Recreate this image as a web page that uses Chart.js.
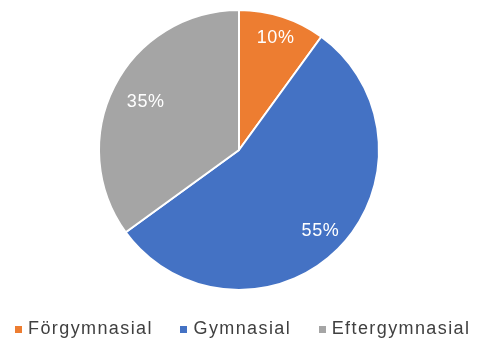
<!DOCTYPE html>
<html>
<head>
<meta charset="utf-8">
<script src="https://cdn.jsdelivr.net/npm/chart.js@4/dist/chart.umd.min.js"></script>
<style>
  html, body { margin: 0; padding: 0; background: #ffffff; }
  #wrap { width: 478px; height: 344px; position: relative; }
</style>
</head>
<body>
<div id="wrap"><canvas id="c" width="478" height="344"></canvas></div>
<script>
// Utbildningsnivå – andel per kategori (procent)
const categories = ['Förgymnasial', 'Gymnasial', 'Eftergymnasial'];
const shares = [10, 55, 35];
const sliceColors = ['#ED7D31', '#4472C4', '#A5A5A5'];

// Radial placement of the percentage labels, as a fraction of the radius
const labelRadius = [0.84, 0.82, 0.75];

const FONT = '"Liberation Sans", Arial, sans-serif';

// White percentage labels inside each slice
const sliceLabels = {
  id: 'sliceLabels',
  afterDatasetsDraw(chart) {
    const ctx = chart.ctx;
    const meta = chart.getDatasetMeta(0);
    ctx.save();
    ctx.font = '18px ' + FONT;
    ctx.letterSpacing = '0.6px';
    ctx.fillStyle = '#ffffff';
    ctx.textAlign = 'center';
    ctx.textBaseline = 'middle';
    meta.data.forEach((arc, i) => {
      const p = arc.getProps(['x', 'y', 'startAngle', 'endAngle', 'outerRadius'], true);
      const mid = (p.startAngle + p.endAngle) / 2;
      const r = p.outerRadius * labelRadius[i];
      const x = p.x + Math.cos(mid) * r;
      const y = p.y + Math.sin(mid) * r;
      ctx.fillText(shares[i] + '%', x + 0.3, y);
    });
    ctx.restore();
  }
};

// Single-row key under the pie: small square + category name
const bottomKey = {
  id: 'bottomKey',
  afterDraw(chart, args, opts) {
    const ctx = chart.ctx;
    const colors = chart.data.datasets[0].backgroundColor;
    const names = chart.data.labels;
    ctx.save();
    ctx.font = opts.fontSize + 'px ' + FONT;
    ctx.letterSpacing = opts.spacing + 'px';
    ctx.textBaseline = 'middle';
    ctx.textAlign = 'left';
    const widths = names.map(n => ctx.measureText(n).width - opts.spacing);
    const itemW = widths.map(w => opts.box + opts.gap + w);
    const total = itemW.reduce((a, b) => a + b, 0) + opts.itemGap * (names.length - 1);
    let x = chart.width / 2 - total / 2 + opts.shift;
    const y = opts.y;
    names.forEach((n, i) => {
      ctx.fillStyle = colors[i];
      ctx.fillRect(Math.round(x), Math.round(y - opts.box / 2), opts.box, opts.box);
      ctx.fillStyle = opts.color;
      ctx.fillText(n, x + opts.box + opts.gap, y);
      x += itemW[i] + opts.itemGap;
    });
    ctx.restore();
  }
};

new Chart(document.getElementById('c'), {
  type: 'pie',
  data: {
    labels: categories,
    datasets: [{
      data: shares,
      backgroundColor: sliceColors,
      borderColor: '#ffffff',
      borderWidth: 2,
      hoverOffset: 0
    }]
  },
  options: {
    responsive: false,
    animation: false,
    events: [],
    layout: { padding: { top: 9, bottom: 53, left: 0, right: 0 } },
    plugins: {
      legend: { display: false },
      tooltip: { enabled: false },
      bottomKey: {
        fontSize: 18,
        spacing: 1.4,
        box: 7,
        gap: 6,
        itemGap: 29,
        shift: 3,
        y: 329,
        color: '#404040'
      }
    }
  },
  plugins: [sliceLabels, bottomKey]
});
</script>
</body>
</html>
